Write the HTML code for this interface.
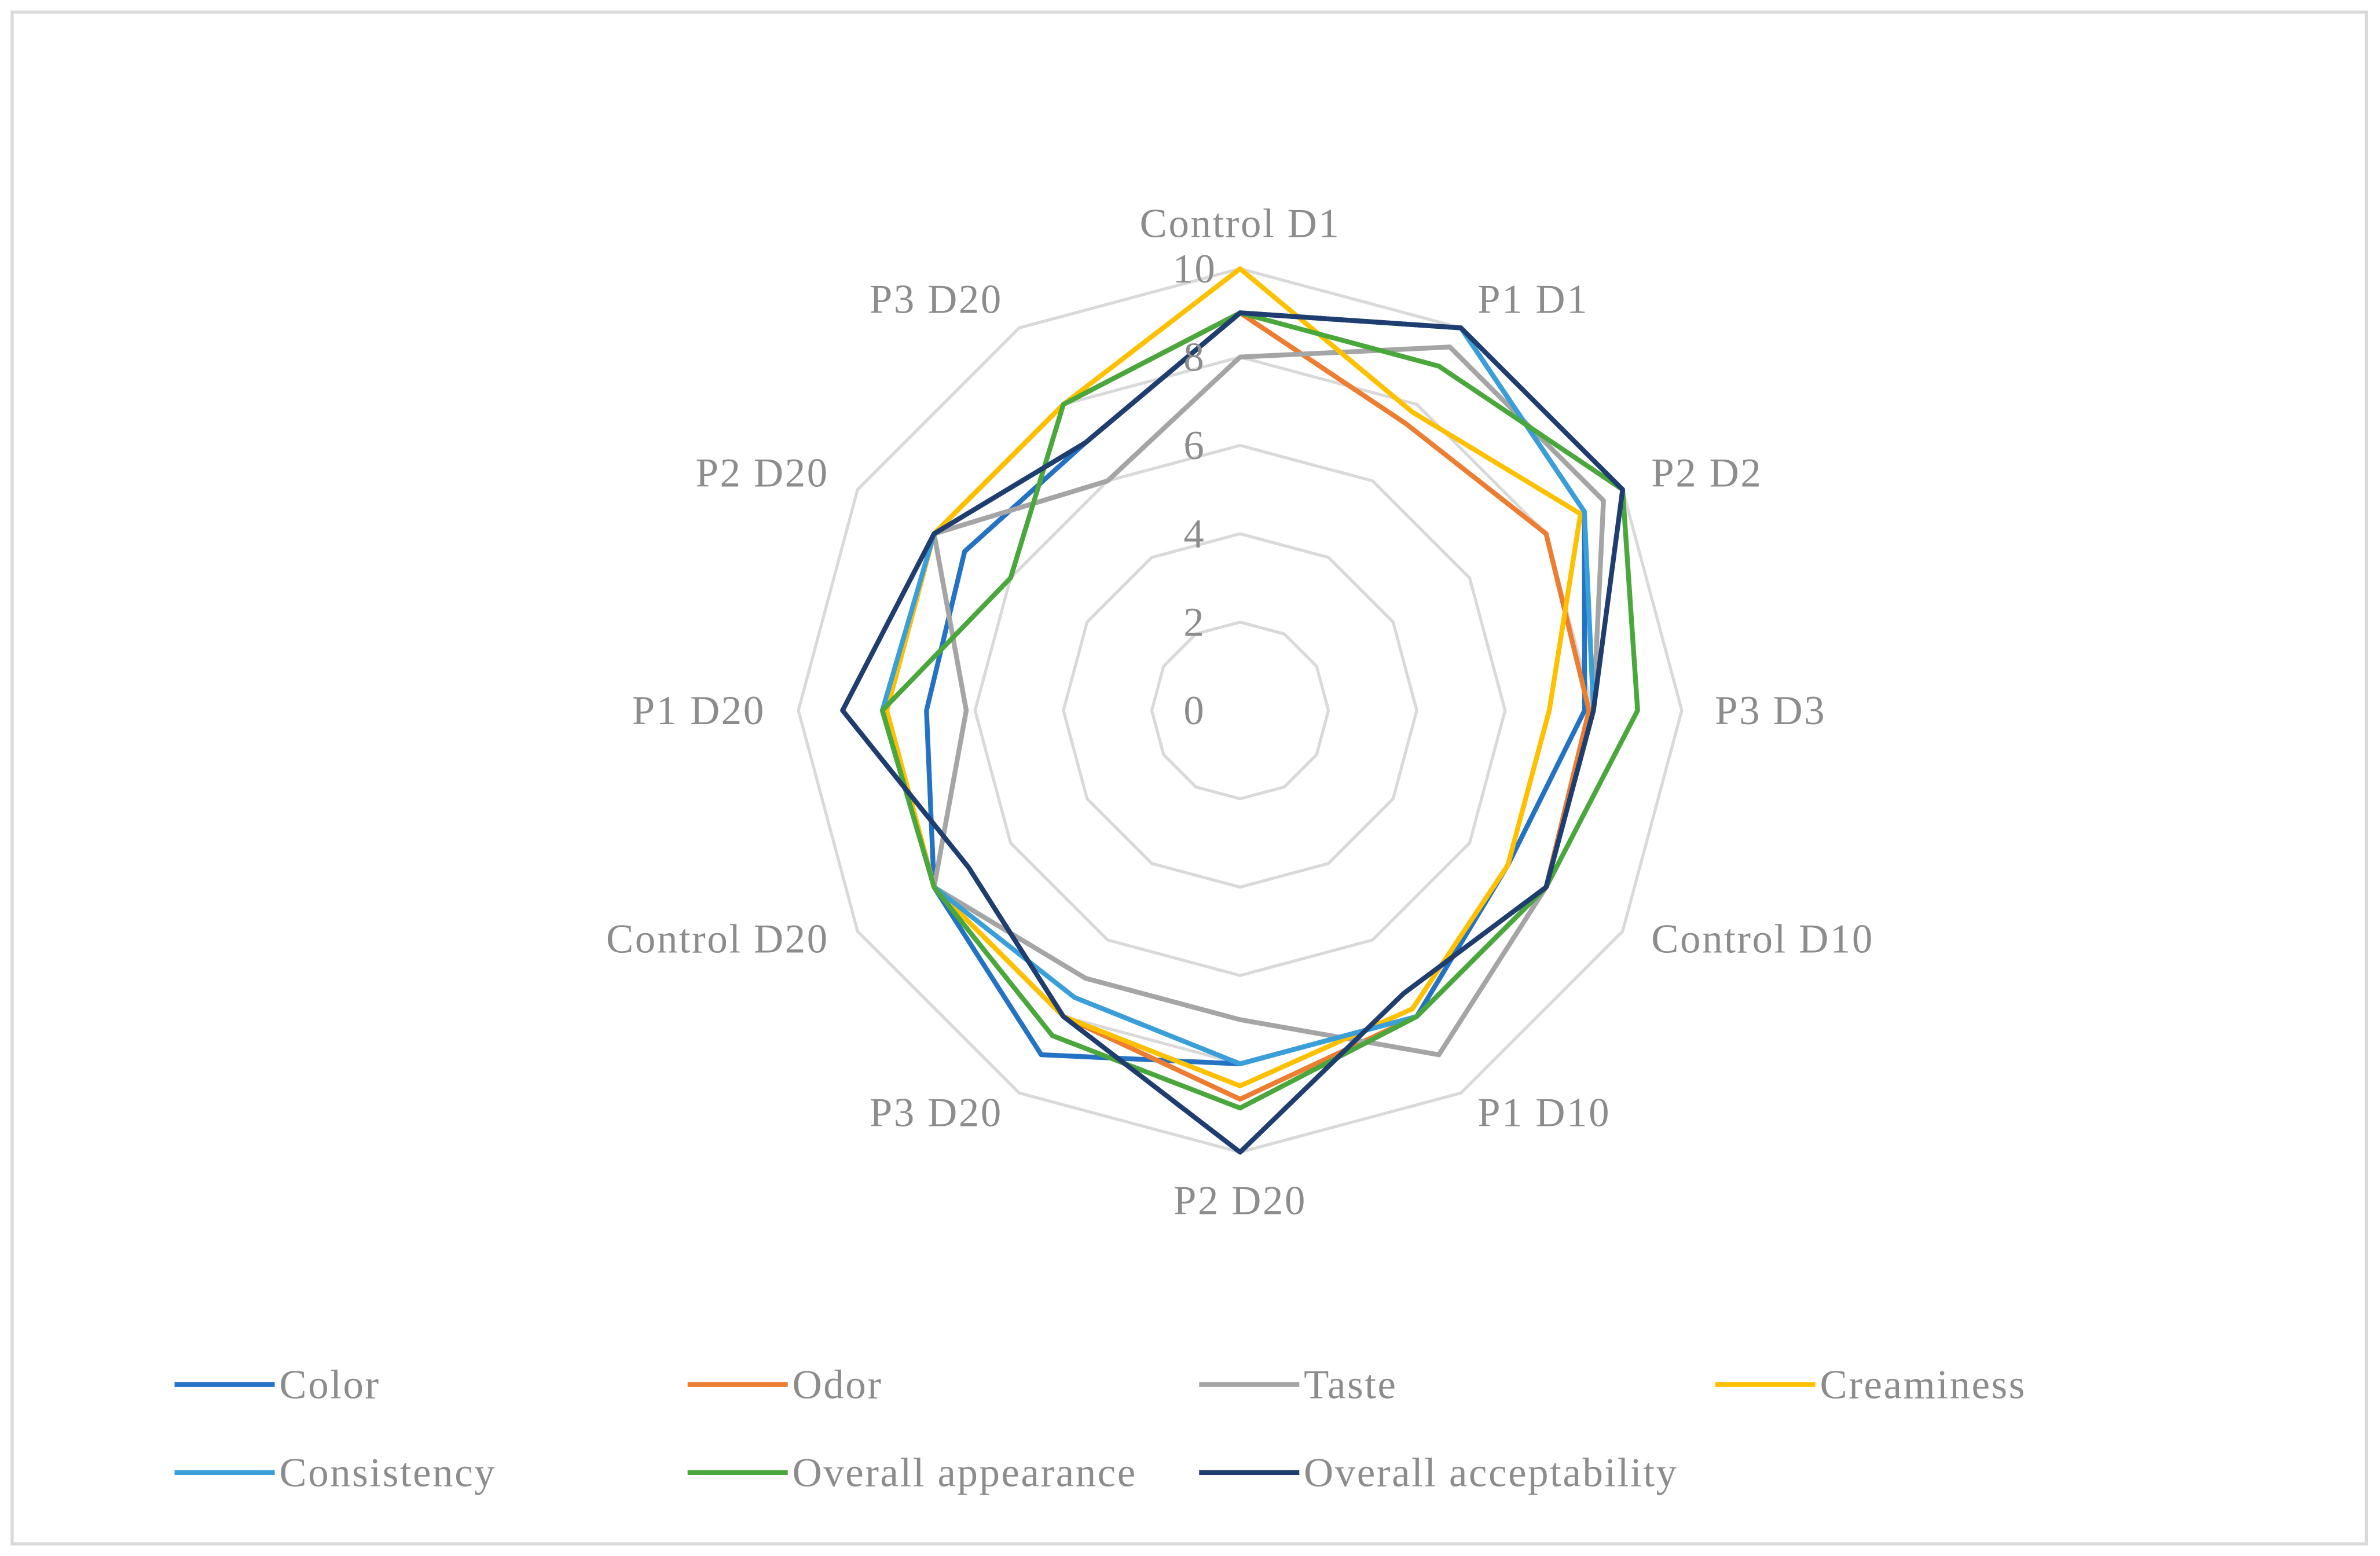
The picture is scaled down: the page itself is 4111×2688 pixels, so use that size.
<!DOCTYPE html>
<html><head><meta charset="utf-8"><style>
html,body{margin:0;padding:0;background:#fff;}
svg{display:block;}
text{font-family:"Liberation Serif",serif;fill:#8c8c8c;letter-spacing:1px;}
</style></head><body>
<svg id="chart" width="4111" height="2688" viewBox="0 0 1568 1025" preserveAspectRatio="none" xmlns="http://www.w3.org/2000/svg">
<rect x="8" y="8" width="1551" height="1009" fill="#fff" stroke="#d9d9d9" stroke-width="2"/>
<g id="grid"></g><g id="series"></g><g id="labels"></g><g id="legend"></g>
</svg>
<script>
const categories=["Control D1","P1 D1","P2 D2","P3 D3","Control D10","P1 D10","P2 D20","P3 D20","Control D20","P1 D20","P2 D20","P3 D20"];
const ticks=[0,2,4,6,8,10];
const seriesNames=["Color","Odor","Taste","Creaminess","Consistency","Overall appearance","Overall acceptability"];
const seriesColors=["#2372c4","#ed7d31","#a5a5a5","#ffc000","#3a9fd8","#4aa73c","#1f3d6e"];
const color=[9,10,9,7.8,7,8,8,9,8,7.1,7.2,7];
const odor=[9,7.5,8,7.9,8,8,8.8,8,8,8,8,8];
const taste=[8,9.5,9.5,8,8,9,7,7,8,6.2,8,6];
const creaminess=[10,7.8,8.9,7,7,7.8,8.5,8,8,8,8,8];
const consistency=[9,10,9,8,8,8,8,7.5,8,8.1,8,7];
const appearance=[9,9,10,9,8,8,9,8.5,8,8.1,6,8];
const acceptability=[9,10,10,8,8,7.4,10,8,7.1,9,8,7];
const seriesData=[color,odor,taste,creaminess,consistency,appearance,acceptability];
const NS="http://www.w3.org/2000/svg";
const cx=817,cy=468,R=291,maxV=10;
function pt(i,v){const a=(-90+360*i/categories.length)*Math.PI/180;const r=v/maxV*R;return [cx+r*Math.cos(a),cy+r*Math.sin(a)];}
function mk(tag,attrs,parent){const e=document.createElementNS(NS,tag);for(const k in attrs)e.setAttribute(k,attrs[k]);parent.appendChild(e);return e;}
const grid=document.getElementById('grid');
ticks.forEach(t=>{if(t===0)return;
 const p=mk('polygon',{points:categories.map((c,i)=>pt(i,t).join(',')).join(' '),fill:'none',stroke:'#d9d9d9','stroke-width':2},grid);
 
 
});
const labels=document.getElementById('labels');
ticks.forEach(t=>{const y=pt(0,t)[1];
 const e=mk('text',{x:cx-30,y:y+9,'font-size':27,'text-anchor':'middle'},labels);e.textContent=t;
 
 
});
categories.forEach((c,i)=>{const [x,y]=pt(i,10.75);const a=(-90+360*i/categories.length);
 let anchor='middle';const ca=Math.cos(a*Math.PI/180);if(ca>0.1)anchor='start';else if(ca<-0.1)anchor='end';
 const sa=Math.sin(a*Math.PI/180);let dy=9+(sa>0.9?10:(sa<-0.9?-8:(sa>0.4?-6:0)));
 const e=mk('text',{x:x,y:y+dy,'font-size':27,'text-anchor':anchor},labels);e.textContent=c;
 
 
});
const sg=document.getElementById('series');
seriesData.forEach((d,s)=>{
 const p=mk('polygon',{points:d.map((v,i)=>pt(i,v).join(',')).join(' '),fill:'none',stroke:seriesColors[s],'stroke-width':3.2,'stroke-linejoin':'round'},sg);
 
 
});
const lg=document.getElementById('legend');
const lx=[115,453,790,1130];
seriesNames.forEach((n,s)=>{const x=lx[s%4],y=s<4?912:970;
 const g=mk('g',{},lg);
 
 
 mk('line',{x1:x,y1:y,x2:x+66,y2:y,stroke:seriesColors[s],'stroke-width':3.2},g);
 const t=mk('text',{x:x+69,y:y+9,'font-size':27},g);t.textContent=n;
});
</script>
</body></html>
